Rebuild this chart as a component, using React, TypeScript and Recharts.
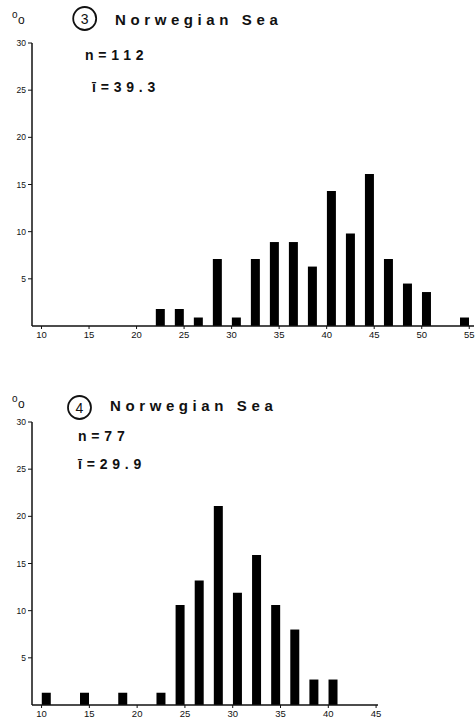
import React from 'react';
import { BarChart, Bar, XAxis, YAxis } from 'recharts';

// Sample 3 – Norwegian Sea (length class centres, % of fish)
const topLengths = [22.5, 24.5, 26.5, 28.5, 30.5, 32.5, 34.5, 36.5, 38.5, 40.5, 42.5, 44.5, 46.5, 48.5, 50.5, 54.5];
const topPercent = [1.8, 1.8, 0.9, 7.1, 0.9, 7.1, 8.9, 8.9, 6.3, 14.3, 9.8, 16.1, 7.1, 4.5, 3.6, 0.9];
const topXTicks = [10, 15, 20, 25, 30, 35, 40, 45, 50, 55];

// Sample 4 – Norwegian Sea
const bottomLengths = [10.5, 14.5, 18.5, 22.5, 24.5, 26.5, 28.5, 30.5, 32.5, 34.5, 36.5, 38.5, 40.5];
const bottomPercent = [1.3, 1.3, 1.3, 1.3, 10.6, 13.2, 21.1, 11.9, 15.9, 10.6, 8.0, 2.7, 2.7];
const bottomXTicks = [10, 15, 20, 25, 30, 35, 40, 45];

const yTicks = [5, 10, 15, 20, 25, 30];

const topData = topLengths.map((x, i) => ({ x, v: topPercent[i] }));
const bottomData = bottomLengths.map((x, i) => ({ x, v: bottomPercent[i] }));

const FONT = '"Liberation Sans", Arial, sans-serif';
const INK = '#111';

function Hist(props: any) {
  const { data, xDomain, xTicks, height, margin, xHeight } = props;
  return (
    <BarChart width={476} height={height} data={data} margin={margin}>
      <XAxis
        dataKey="x"
        type="number"
        domain={xDomain}
        ticks={xTicks}
        interval={0}
        allowDataOverflow
        height={xHeight}
        tickSize={3}
        tickMargin={2}
        axisLine={{ stroke: INK, strokeWidth: 1.5 }}
        tickLine={{ stroke: INK }}
        tick={{ fontSize: 9.5, fill: INK, fontFamily: FONT }}
      />
      <YAxis
        type="number"
        domain={[0, 30]}
        ticks={yTicks}
        interval={0}
        allowDataOverflow
        width={32}
        tickSize={4}
        tickMargin={2}
        axisLine={{ stroke: INK, strokeWidth: 1.5 }}
        tickLine={{ stroke: INK }}
        tick={{ fontSize: 8.5, fill: INK, fontFamily: FONT }}
      />
      <Bar dataKey="v" fill="#000" barSize={9} isAnimationActive={false} />
    </BarChart>
  );
}

function Header(props: any) {
  const { py, cx, cy, num, titleX, titleY, nX, nY, nText, mX, mY, mText } = props;
  return (
    <g fontFamily={FONT} fill={INK}>
      <text fontSize={10}>
        <tspan x={12} y={py}>o</tspan>
        <tspan x={18} y={py + 6} fontSize={12}>o</tspan>
      </text>
      <circle cx={cx} cy={cy} r={11.5} fill="none" stroke={INK} strokeWidth={1.8} />
      <text x={cx} y={cy + 5} fontSize={14} textAnchor="middle">{num}</text>
      <text x={titleX} y={titleY} fontSize={15} fontWeight="bold" letterSpacing={4.6}>Norwegian Sea</text>
      <text x={nX} y={nY} fontSize={14} fontWeight="bold" letterSpacing={4.8}>{nText}</text>
      <text x={mX} y={mY} fontSize={14} fontWeight="bold" letterSpacing={4.8}>{mText}</text>
    </g>
  );
}

export default function App() {
  return (
    <div style={{ position: 'absolute', left: 0, top: 0, width: 476, height: 724, background: '#fff', overflow: 'hidden' }}>
      <div style={{ position: 'absolute', left: 0, top: 0 }}>
        <Hist
          data={topData}
          xDomain={[9, 55.5]}
          xTicks={topXTicks}
          height={350}
          xHeight={20}
          margin={{ top: 43, right: 2, bottom: 4, left: 0 }}
        />
      </div>
      <div style={{ position: 'absolute', left: 0, top: 379 }}>
        <Hist
          data={bottomData}
          xDomain={[9, 45.2]}
          xTicks={bottomXTicks}
          height={345}
          xHeight={19}
          margin={{ top: 43, right: 98, bottom: 0, left: 0 }}
        />
      </div>
      <svg width={476} height={724} style={{ position: 'absolute', left: 0, top: 0, pointerEvents: 'none' }}>
        <Header py={18} cx={84.7} cy={18.5} num="3" titleX={115} titleY={25}
          nX={85} nY={60} nText="n=112" mX={92} mY={92} mText="ī=39.3" />
        <Header py={402} cx={79.5} cy={407.5} num="4" titleX={110} titleY={411}
          nX={78} nY={441} nText="n=77" mX={78} mY={469} mText="ī=29.9" />
      </svg>
    </div>
  );
}
